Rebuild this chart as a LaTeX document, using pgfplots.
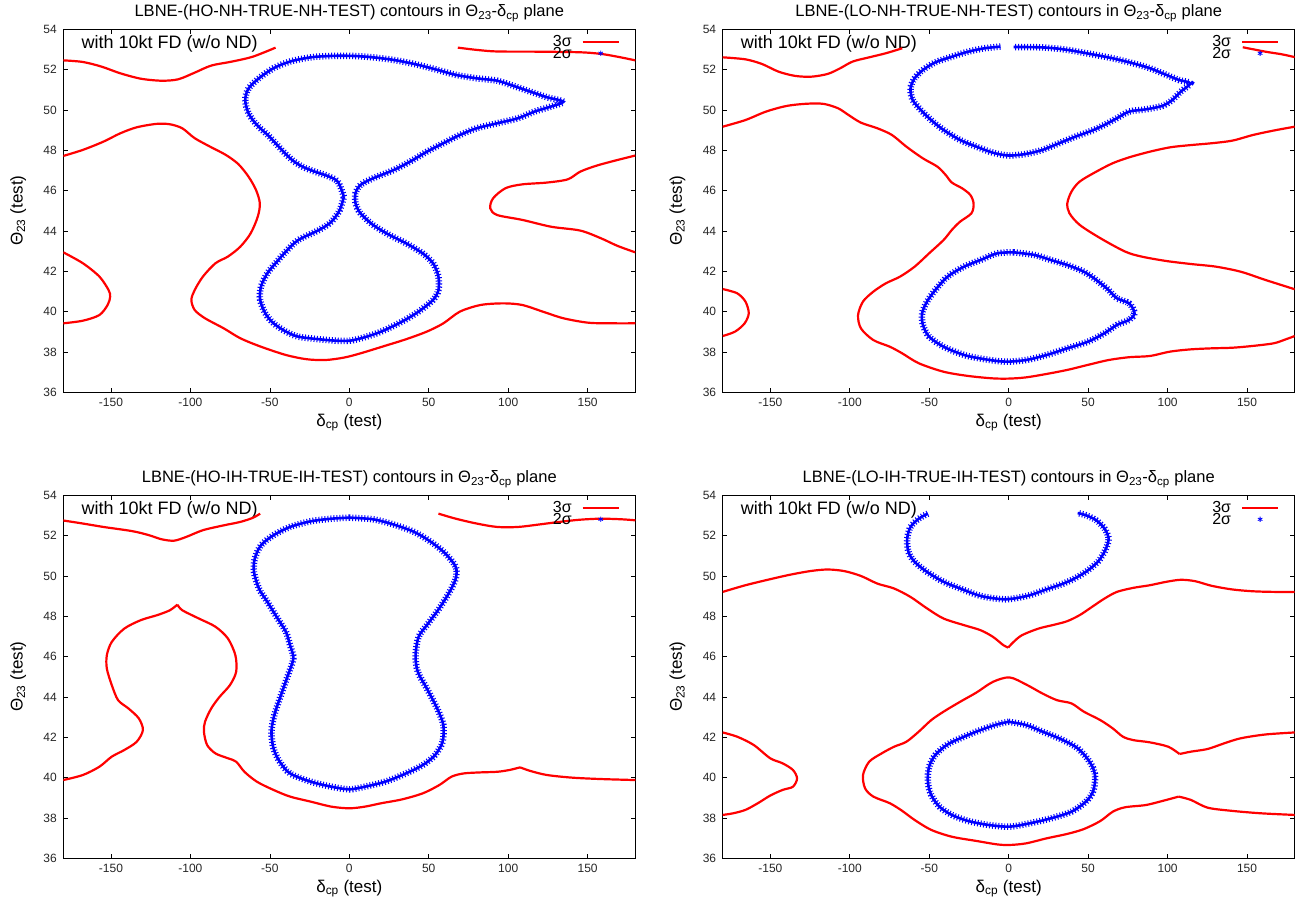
\documentclass[border=0pt]{standalone}
\usepackage{fontspec}
\setmainfont{Liberation Sans}
\usepackage{pgfplots}
\pgfplotsset{compat=1.18}

\pgfplotsset{
  panel/.style={
    scale only axis, width=572pt, height=363pt,
    xmin=-180, xmax=180, ymin=36, ymax=54,
    xtick={-150,-100,-50,0,50,100,150}, ytick={36,38,40,42,44,46,48,50,52,54},
    tick align=inside, tick pos=both, major tick length=4.5pt,
    axis line style={line width=0.9pt, black},
    every tick/.style={line width=0.7pt, black},
    /pgf/number format/assume math mode=true,
    ticklabel style={font=\fontsize{12}{12}\selectfont, color=black!85},
    xticklabel style={yshift=-2pt},
    yticklabel style={xshift=-3pt},
    xlabel={δ\textsubscript{cp} (test)}, ylabel={Θ\textsubscript{23} (test)},
    xlabel style={at={(axis description cs:0.5,-0.083)}, anchor=center, font=\fontsize{17}{18}\selectfont},
    ylabel style={at={(axis description cs:-0.079,0.5)}, anchor=center, font=\fontsize{17}{18}\selectfont},
    title style={at={(axis description cs:0.5,1.044)}, anchor=center, yshift=0pt, font=\fontsize{16.5}{17}\selectfont},
    every axis title shift=0pt,
    legend style={at={(axis description cs:0.9733,0.984)}, anchor=north east, draw=none, fill=none,
      font=\fontsize{16}{16}\selectfont, row sep=-1pt, column sep=10pt, inner sep=0pt, nodes={inner sep=0pt}},
    legend cell align=right, legend plot pos=right,
    legend image code/.code={\draw[mark repeat=2,mark phase=2,##1] plot coordinates {(0pt,0pt) (18pt,0pt) (36pt,0pt)};},
  },
  c3/.style={red, line width=2.2pt, smooth, no markers, forget plot},
  c2/.style={blue, smooth, no markers, forget plot, line width=2.6pt,
    postaction={draw, blue, line width=6.5pt, dash pattern=on 1pt off 2pt}},
}
\newcommand{\legs}{%
  \addlegendimage{red, line width=2.2pt}\addlegendentry{3σ}
  \addlegendimage{only marks, mark=asterisk, blue, mark size=2.6pt, mark options={line width=0.8pt}}\addlegendentry{2σ}
  \node[anchor=west, inner sep=0pt, font=\fontsize{18}{18}\selectfont] at (axis description cs:0.0315,0.961) {with 10kt FD (w/o ND)};
}

\begin{document}
\begin{tikzpicture}
\useasboundingbox (0,0) rectangle (1302pt,905pt);

% ---------------- Panel 1: HO-NH ----------------
\begin{axis}[panel, at={(63.3pt,512.7pt)}, anchor=south west,
  title={LBNE-(HO-NH-TRUE-NH-TEST) contours in Θ\textsubscript{23}-δ\textsubscript{cp} plane}]
\legs
\addplot[c3] coordinates {(-180,52.46) (-167.7,52.38) (-156,52.15) (-144.2,51.82) (-131.2,51.55) (-118.2,51.45) (-107.7,51.52) (-97.3,51.85) (-86.9,52.2) (-73.8,52.4) (-60.8,52.64) (-46.4,53.09)};
\addplot[c3] coordinates {(68.3,53.09) (80,52.98) (93.1,52.9) (119.2,52.89) (145.3,52.86) (158.3,52.78) (168.8,52.64) (180,52.46)};
\addplot[c3] coordinates {(-180,47.72) (-167.7,48.02) (-154.7,48.43) (-144.2,48.84) (-133.8,49.14) (-121.3,49.31) (-112.9,49.29) (-105.1,49.09) (-97.3,48.6) (-86.9,48.15) (-77.7,47.77) (-69.9,47.32) (-63.4,46.69) (-58.7,46.03) (-56.3,45.37) (-57.6,44.71) (-62.1,43.88) (-68.6,43.22) (-76.4,42.73) (-84.2,42.4) (-92.1,41.74) (-97.3,41.07) (-99.4,40.58) (-97.3,40.08) (-90.8,39.67) (-79,39.17) (-68.6,38.68) (-55.6,38.26) (-39.9,37.85) (-26.9,37.64) (-15.1,37.6) (-3.4,37.72) (7,37.93) (22.7,38.31) (35.7,38.63) (48.8,39.01) (59.2,39.42) (69.6,40) (82.7,40.33) (97,40.41) (108.8,40.33) (121.8,40) (134.8,39.67) (150.5,39.45) (166.1,39.42) (180,39.42)};
\addplot[c3] coordinates {(-180,42.94) (-167.7,42.4) (-157.3,41.74) (-151.5,41.07) (-150.5,40.74) (-152.1,40.33) (-157.3,39.83) (-167.7,39.55) (-180,39.42)};
\addplot[c3] coordinates {(180,47.74) (168.8,47.52) (155.7,47.24) (145.3,46.94) (137.5,46.56) (124.4,46.4) (108.8,46.31) (98.3,46.12) (90.5,45.62) (88.7,45.12) (93.1,44.79) (108.8,44.55) (127,44.21) (145.3,44.02) (158.3,43.64) (168.8,43.26) (180,42.94)};
\addplot[c2] coordinates {(-3.4,45.7) (-7.3,46.45) (-13.8,46.73) (-21.6,46.94) (-29.5,47.19) (-36,47.52) (-42.5,48.02) (-50.3,48.68) (-58.2,49.26) (-63.4,49.83) (-65.5,50.5) (-63.4,51.07) (-56.9,51.57) (-47.7,52.07) (-37.3,52.4) (-24.3,52.61) (-11.2,52.68) (1.8,52.68) (14.9,52.61) (27.9,52.48) (40.9,52.28) (54,52.02) (67,51.74) (80.1,51.57) (93.1,51.45) (103.5,51.19) (113.9,50.91) (124.4,50.63) (134.8,50.41) (127,50.17) (116.6,49.92) (106.2,49.59) (93.1,49.34) (80.1,49.09) (69.6,48.76) (59.2,48.35) (48.8,47.93) (38.3,47.44) (27.9,47.02) (14.9,46.61) (7,46.28) (3.9,45.87) (3.9,45.37) (7,44.88) (14.9,44.3) (25.3,43.8) (35.7,43.39) (46.2,42.89) (52.7,42.4) (56.1,41.74) (56.1,41.07) (52.7,40.58) (43.6,40) (33.1,39.5) (20.1,39.01) (9.7,38.73) (0.5,38.56) (-8.6,38.56) (-19,38.63) (-32.1,38.76) (-39.9,39.01) (-47.7,39.42) (-52.9,39.92) (-56.1,40.58) (-55.6,41.24) (-51.6,41.9) (-46.4,42.4) (-39.9,42.98) (-32.1,43.55) (-19,44.05) (-11.2,44.46) (-6,45.04) (-3.4,45.7)};
\end{axis}

% ---------------- Panel 2: LO-NH ----------------
\begin{axis}[panel, at={(722.7pt,512.7pt)}, anchor=south west,
  title={LBNE-(LO-NH-TRUE-NH-TEST) contours in Θ\textsubscript{23}-δ\textsubscript{cp} plane}]
\legs
\addplot[c3] coordinates {(-180,52.61) (-165.7,52.51) (-155.3,52.28) (-144.9,51.9) (-134.5,51.69) (-124.2,51.65) (-113.8,51.79) (-106,52.07) (-98.2,52.4) (-87.8,52.61) (-77.4,52.81) (-67,53.06)};
\addplot[c3] coordinates {(147.3,53.11) (161.6,52.89) (171.9,52.76) (180,52.62)};
\addplot[c3] coordinates {(-180,49.17) (-165.7,49.5) (-152.7,49.92) (-139.7,50.2) (-126.8,50.31) (-116.4,50.3) (-107.3,50.08) (-100.8,49.75) (-93,49.37) (-82.6,49.09) (-73.5,48.76) (-64.4,48.18) (-54,47.6) (-44.9,47.19) (-39.7,46.78) (-35.8,46.4) (-29.4,46.12) (-24.2,45.79) (-22.1,45.37) (-23.4,44.88) (-30.6,44.46) (-35.8,44.05) (-41,43.55) (-50.1,42.89) (-59.2,42.23) (-68.3,41.74) (-77.4,41.4) (-85.2,40.99) (-91.7,40.5) (-94.8,39.83) (-93,39.17) (-85.2,38.59) (-74.8,38.26) (-67,37.93) (-56.6,37.44) (-41,37.02) (-25.5,36.81) (-9.9,36.69) (0.5,36.68) (10.9,36.74) (23.9,36.91) (36.9,37.11) (49.9,37.36) (62.9,37.6) (75.8,37.74) (88.8,37.8) (101.8,38.02) (114.8,38.13) (127.8,38.18) (140.8,38.21) (153.8,38.3) (166.8,38.43) (174.5,38.63) (180,38.79)};
\addplot[c3] coordinates {(180,49.17) (166.8,48.98) (153.8,48.76) (140.8,48.48) (127.8,48.35) (114.8,48.26) (101.8,48.15) (88.8,47.93) (75.8,47.65) (65.5,47.36) (55.1,46.94) (44.7,46.45) (39.5,45.95) (36.9,45.37) (38.2,44.88) (44.7,44.3) (57.7,43.64) (73.2,42.98) (83.6,42.73) (99.2,42.51) (114.8,42.36) (130.4,42.23) (146,41.98) (161.6,41.57) (180,41.11)};
\addplot[c3] coordinates {(-180,41.12) (-170.9,40.91) (-165.7,40.5) (-163.6,39.92) (-166.2,39.42) (-172.2,39.01) (-180,38.79)};
\addplot[c2] coordinates {(-5.2,53.14) (-15.1,53.06) (-25.5,52.89) (-35.8,52.64) (-46.2,52.36) (-54,51.98) (-59.2,51.57) (-61.8,51.07) (-60.5,50.5) (-55.3,50) (-48.8,49.5) (-41,49.01) (-30.6,48.51) (-20.3,48.18) (-9.9,47.88) (0,47.74) (10.9,47.82) (21.3,48.02) (31.7,48.35) (42.1,48.68) (52.5,48.98) (60.3,49.26) (68.1,49.59) (75.8,49.92) (86.2,50.03) (96.6,50.2) (103.1,50.5) (108.3,50.91) (114.3,51.32) (107,51.49) (99.2,51.74) (88.8,52.07) (78.4,52.31) (65.5,52.56) (52.5,52.76) (36.9,52.98) (23.9,53.09) (10.9,53.12) (3.1,53.12)};
\addplot[c2] coordinates {(3.1,42.94) (-7.3,42.89) (-17.7,42.56) (-28.1,42.23) (-38.4,41.74) (-46.2,41.07) (-51.4,40.5) (-54.5,39.92) (-54,39.34) (-50.1,38.76) (-41,38.26) (-28.1,37.85) (-15.1,37.64) (-2.1,37.52) (10.9,37.6) (23.9,37.85) (36.9,38.18) (49.9,38.51) (60.3,38.93) (68.1,39.34) (75.8,39.59) (79.2,39.92) (75.8,40.41) (68.1,40.66) (62.9,41.07) (55.1,41.57) (47.3,41.98) (36.9,42.31) (26.5,42.56) (16.1,42.81) (3.1,42.94)};
\end{axis}

% ---------------- Panel 3: HO-IH ----------------
\begin{axis}[panel, at={(63.3pt,46.7pt)}, anchor=south west,
  title={LBNE-(HO-IH-TRUE-IH-TEST) contours in Θ\textsubscript{23}-δ\textsubscript{cp} plane}]
\legs
\addplot[c3] coordinates {(-180,52.75) (-167.7,52.6) (-154.7,52.43) (-136.4,52.22) (-126,52.02) (-118.2,51.82) (-110.3,51.75) (-102.5,51.94) (-92.1,52.27) (-79,52.51) (-68.6,52.68) (-60.8,52.88) (-56.1,53.09)};
\addplot[c3] coordinates {(56.1,53.09) (67,52.84) (80.1,52.6) (93.1,52.43) (106.2,52.43) (119.2,52.55) (132.2,52.68) (145.3,52.79) (158.3,52.84) (171.4,52.81) (180,52.76)};
\addplot[c3] coordinates {(-180,39.88) (-167.7,40.13) (-157.3,40.54) (-149.5,41.04) (-141.6,41.37) (-133.8,41.78) (-129.9,42.36) (-132.5,42.94) (-139,43.43) (-145.5,43.84) (-149.5,44.59) (-152.6,45.41) (-152.6,46.07) (-149.5,46.73) (-141.6,47.39) (-131.2,47.81) (-120.8,48.06) (-112.9,48.3) (-108.2,48.58)};
\addplot[c3] coordinates {(-108.2,48.58) (-105.1,48.3) (-94.7,47.89) (-84.2,47.48) (-76.4,46.9) (-71.7,46.07) (-71.2,45.25) (-75.1,44.59) (-81.6,44.01) (-86.9,43.43) (-90.8,42.77) (-91.5,42.28) (-89.5,41.62) (-84.2,41.2) (-76.4,40.96) (-71.2,40.79) (-66,40.29) (-58.2,39.8) (-47.7,39.39) (-37.3,39.06) (-24.3,38.81) (-11.2,38.56) (0,38.48) (9.7,38.56) (20.1,38.73) (33.1,38.92) (46.2,39.22) (56.6,39.63) (64.4,40.05) (72.2,40.21) (82.7,40.26) (93.1,40.29) (100.9,40.38) (107.5,40.51)};
\addplot[c3] coordinates {(107.5,40.51) (114,40.33) (124.4,40.13) (140.1,40) (158.3,39.93) (180,39.88)};
\addplot[c2] coordinates {(0,52.89) (14.9,52.81) (27.9,52.55) (40.9,52.18) (51.4,51.69) (60.5,51.11) (67,50.45) (67,49.87) (63.1,49.21) (56.6,48.39) (48.8,47.56) (43.6,46.98) (41.7,46.07) (43.1,45.25) (48.8,44.42) (55.3,43.43) (59.2,42.61) (58.7,41.78) (54,41.12) (46.2,40.62) (35.7,40.21) (22.7,39.8) (9.7,39.55) (0,39.42) (-11.2,39.55) (-24.3,39.8) (-37.3,40.21) (-43.8,40.79) (-47.7,41.45) (-49,42.28) (-47.2,43.1) (-43,44.09) (-38.6,45.08) (-35.2,45.91) (-37.3,46.57) (-39.9,47.23) (-45.1,47.89) (-51.6,48.72) (-56.9,49.38) (-60,50.2) (-59.5,50.86) (-55.6,51.52) (-47.7,52.02) (-37.3,52.43) (-24.3,52.71) (-11.2,52.84) (0,52.89)};
\end{axis}

% ---------------- Panel 4: LO-IH ----------------
\begin{axis}[panel, at={(722.7pt,46.7pt)}, anchor=south west,
  title={LBNE-(LO-IH-TRUE-IH-TEST) contours in Θ\textsubscript{23}-δ\textsubscript{cp} plane}]
\legs
\addplot[c3] coordinates {(-180,49.21) (-165.7,49.54) (-150.1,49.84) (-137.1,50.07) (-124.2,50.25) (-113.8,50.32) (-103.4,50.24) (-93,50.0) (-82.6,49.62) (-72.2,49.38) (-61.8,48.96) (-51.4,48.39) (-41,47.89) (-28.1,47.56) (-17.7,47.31) (-9.9,46.98) (-3.4,46.57) (-0.3,46.45)};
\addplot[c3] coordinates {(-0.3,46.45) (3.1,46.73) (8.3,47.06) (18.7,47.39) (29.1,47.59) (36.9,47.76) (44.7,48.06) (52.5,48.47) (60.3,48.88) (68.1,49.21) (78.4,49.41) (88.8,49.54) (99.2,49.71) (108.3,49.81) (117.4,49.74) (127.8,49.51) (140.8,49.33) (153.8,49.24) (166.8,49.21) (180,49.21)};
\addplot[c3] coordinates {(-180,42.24) (-170.9,42.03) (-160.5,41.62) (-150.1,40.96) (-142.3,40.71) (-135.8,40.38) (-133.2,39.96) (-135.8,39.55) (-142.3,39.39) (-150.1,39.11) (-157.9,38.73) (-165.7,38.4) (-173.5,38.23) (-180,38.15)};
\addplot[c3] coordinates {(180,42.24) (161.6,42.14) (146,41.95) (135.6,41.7) (125.2,41.42) (114.8,41.29) (107.5,41.17)};
\addplot[c3] coordinates {(107.5,41.17) (100.5,41.53) (88.8,41.75) (78.4,41.86) (71.9,42.03) (65.5,42.44) (57.7,42.85) (47.3,43.27) (39.5,43.68) (30.4,43.84) (21.3,44.17) (10.9,44.62) (0.5,44.97) (-9.9,44.75) (-20.3,44.22) (-30.6,43.76) (-41,43.27) (-48.8,42.85) (-56.6,42.28) (-64.4,41.78) (-72.2,41.53) (-80,41.2) (-87.8,40.79) (-91.7,40.13) (-90.4,39.47) (-85.2,39.06) (-74.8,38.73) (-67,38.35) (-59.2,37.9) (-48.8,37.41) (-35.8,37.07) (-20.3,36.86) (-7.3,36.69) (0.5,36.66) (10.9,36.74) (23.9,36.99) (36.9,37.21) (47.3,37.45) (57.7,37.85) (65.5,38.31) (73.2,38.53) (86.2,38.64) (96.6,38.84) (107,39.06)};
\addplot[c3] coordinates {(107,39.06) (114.8,38.89) (125.2,38.51) (140.8,38.35) (159,38.23) (180,38.15)};
\addplot[c2] coordinates {(-50.9,53.09) (-56.6,52.84) (-61.8,52.43) (-63.9,51.85) (-63.1,51.19) (-59.2,50.7) (-51.4,50.2) (-41,49.71) (-30.6,49.38) (-17.7,49.01) (-4.7,48.85) (3.1,48.88) (13.5,49.05) (23.9,49.34) (34.3,49.62) (42.1,49.9) (49.9,50.28) (56.4,50.73) (60.8,51.28) (62.9,51.85) (60.3,52.35) (55.1,52.76) (48.6,53.01) (43.4,53.12)};
\addplot[c2] coordinates {(0,42.77) (10.9,42.61) (21.3,42.28) (31.7,41.95) (42.1,41.53) (48.6,41.04) (53.2,40.46) (54.5,39.96) (53,39.3) (48.6,38.81) (39.5,38.31) (26.5,37.98) (13.5,37.74) (0.5,37.57) (-12.5,37.65) (-25.5,37.85) (-35.8,38.15) (-43.6,38.56) (-48.8,39.14) (-50.9,39.8) (-50.1,40.54) (-46.2,41.12) (-38.4,41.65) (-28.1,42.03) (-17.7,42.36) (-7.3,42.64) (0,42.77)};
\end{axis}
\end{tikzpicture}
\end{document}
